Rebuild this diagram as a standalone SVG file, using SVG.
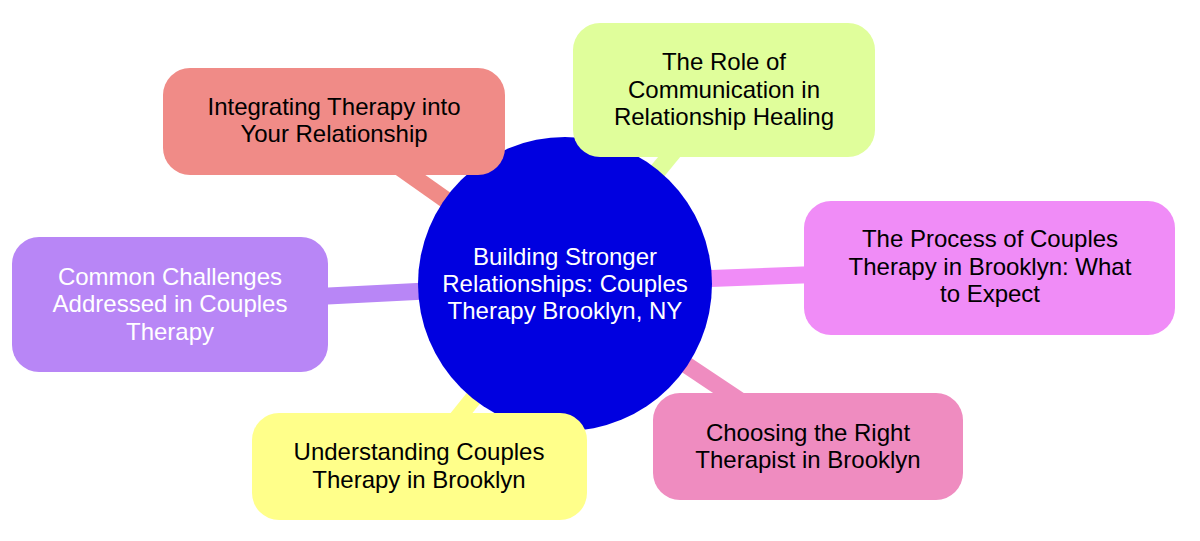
<svg xmlns="http://www.w3.org/2000/svg" width="1200" height="541" viewBox="0 0 1200 541">
<style>
text{font-family:"Liberation Sans",Arial,sans-serif;font-size:24px;text-anchor:middle;fill:#000}
.w{fill:#fff}
.e{stroke-width:17;stroke-linecap:butt;fill:none}
</style>
<rect width="1200" height="541" fill="#fff"/>
<g id="connectors">
<line class="e" x1="334" y1="121" x2="565" y2="284" stroke="#f08b87"/>
<line class="e" x1="724" y1="90" x2="565" y2="284" stroke="#e0fe9b"/>
<line class="e" x1="990" y1="268" x2="565" y2="284" stroke="#f08cf7"/>
<line class="e" x1="170" y1="304" x2="565" y2="284" stroke="#b886f6"/>
<line class="e" x1="808" y1="446" x2="565" y2="284" stroke="#ef8cc0"/>
<line class="e" x1="419" y1="466" x2="565" y2="284" stroke="#ffff8a"/>
</g>
<g id="root">
<circle cx="565" cy="284" r="147" fill="#0000e0"/>
<text class="w" x="565" y="265">Building Stronger</text>
<text class="w" x="565" y="292">Relationships: Couples</text>
<text class="w" x="565" y="319">Therapy Brooklyn, NY</text>
</g>
<g id="n-integrating">
<rect x="163" y="68" width="342" height="107" rx="27" fill="#f08b87"/>
<text x="334" y="115">Integrating Therapy into</text>
<text x="334" y="142">Your Relationship</text>
</g>
<g id="n-communication">
<rect x="573" y="23" width="302" height="134" rx="27" fill="#e0fe9b"/>
<text x="724" y="70">The Role of</text>
<text x="724" y="98">Communication in</text>
<text x="724" y="125">Relationship Healing</text>
</g>
<g id="n-process">
<rect x="804" y="201" width="371" height="134" rx="27" fill="#f08cf7"/>
<text x="990" y="247">The Process of Couples</text>
<text x="990" y="275">Therapy in Brooklyn: What</text>
<text x="990" y="302">to Expect</text>
</g>
<g id="n-challenges">
<rect x="12" y="237" width="316" height="135" rx="27" fill="#b886f6"/>
<text class="w" x="170" y="285">Common Challenges</text>
<text class="w" x="170" y="312">Addressed in Couples</text>
<text class="w" x="170" y="340">Therapy</text>
</g>
<g id="n-choosing">
<rect x="653" y="393" width="310" height="107" rx="27" fill="#ef8cc0"/>
<text x="808" y="441">Choosing the Right</text>
<text x="808" y="468">Therapist in Brooklyn</text>
</g>
<g id="n-understanding">
<rect x="252" y="413" width="335" height="107" rx="27" fill="#ffff8a"/>
<text x="419" y="460">Understanding Couples</text>
<text x="419" y="488">Therapy in Brooklyn</text>
</g>
</svg>
